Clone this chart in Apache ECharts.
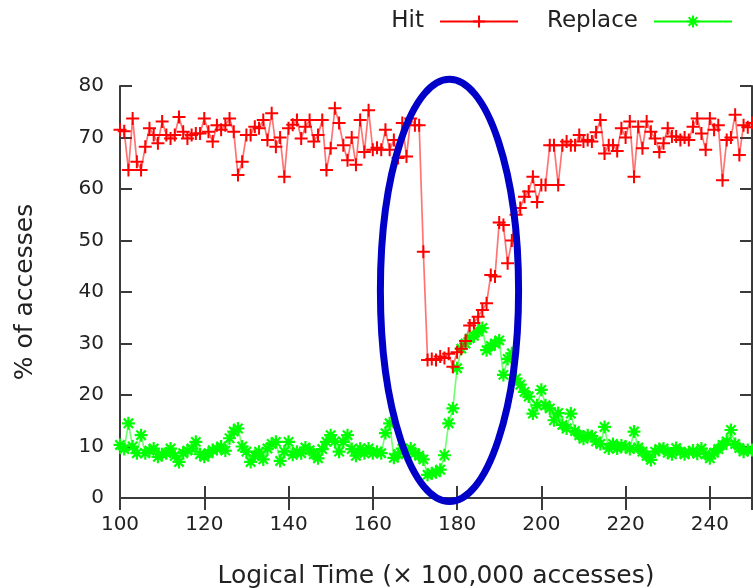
<!DOCTYPE html>
<html>
<head>
<meta charset="utf-8">
<script src="https://cdn.jsdelivr.net/npm/echarts@6/dist/echarts.min.js"></script>
<style>
html,body{margin:0;padding:0;background:#fff;}
#chart{width:753px;height:588px;}
</style>
</head>
<body>
<div id="chart"></div>
<script>
const xValues = [100,101,102,103,104,105,106,107,108,109,110,111,112,113,114,115,116,117,118,119,
120,121,122,123,124,125,126,127,128,129,130,131,132,133,134,135,136,137,138,139,
140,141,142,143,144,145,146,147,148,149,150,151,152,153,154,155,156,157,158,159,
160,161,162,163,164,165,166,167,168,169,170,171,172,173,174,175,176,177,178,179,
180,181,182,183,184,185,186,187,188,189,190,191,192,193,194,195,196,197,198,199,
200,201,202,203,204,205,206,207,208,209,210,211,212,213,214,215,216,217,218,219,
220,221,222,223,224,225,226,227,228,229,230,231,232,233,234,235,236,237,238,239,
240,241,242,243,244,245,246,247,248,249,250];

const hitValues = [71.5,71.2,63.7,73.7,65.3,63.7,68.2,71.8,70.5,68.9,73.1,70.5,69.8,70.5,74.0,71.1,69.8,70.5,70.8,70.8,
73.7,71.1,69.2,72.4,71.5,72.4,73.7,71.1,62.7,65.3,70.5,70.5,72.1,71.8,73.4,69.5,74.7,68.2,70.0,62.4,
71.8,72.5,73.4,69.8,72.1,73.4,69.2,70.5,73.4,63.7,67.9,75.7,72.8,68.5,65.6,70.0,64.7,73.4,67.2,75.3,
67.6,68.0,67.6,71.5,67.6,69.5,66.0,72.8,66.3,73.7,72.4,72.4,47.8,26.8,27.0,26.8,27.5,27.2,28.0,25.5,
28.3,29.0,30.5,33.5,34.0,35.2,36.5,37.8,43.3,43.0,53.5,53.0,45.6,50.0,55.0,56.3,58.5,59.5,62.4,57.5,
60.8,60.8,68.5,68.5,60.8,68.5,69.2,68.5,68.5,70.5,69.2,69.5,69.2,71.0,73.4,66.9,68.5,68.5,67.4,71.8,
70.0,73.1,62.4,72.1,67.9,73.1,71.1,69.8,67.2,68.9,71.8,70.2,70.2,69.5,70.0,69.5,72.1,73.7,70.8,67.6,
73.7,71.5,72.4,61.7,69.5,70.0,74.4,66.6,72.4,72.0,72.8];

const replaceValues = [10.3,9.5,14.5,10.0,8.7,12.2,8.7,9.2,9.6,8.0,8.5,8.7,9.6,8.2,7.0,8.7,9.2,9.6,10.9,8.5,
8.0,8.7,9.3,9.5,10.0,9.2,11.6,12.9,13.5,10.0,9.0,7.0,8.2,9.0,7.5,9.6,10.5,10.9,7.2,9.0,
10.9,8.4,9.0,8.7,9.8,9.3,8.5,7.7,9.5,10.9,12.2,11.0,9.0,10.9,12.2,9.5,8.2,9.6,8.7,9.6,
8.7,9.0,8.7,12.6,14.5,7.8,8.5,9.6,8.7,9.6,8.7,8.2,7.5,4.5,4.8,5.0,5.5,8.3,14.5,17.4,
25.2,29.0,30.0,31.0,31.5,32.3,33.0,28.7,29.5,30.0,30.6,23.9,27.0,28.1,23.2,22.0,20.6,19.7,16.4,18.0,
21.0,18.0,17.4,15.1,16.5,14.2,13.5,16.4,13.0,12.2,11.5,12.2,12.0,11.0,10.5,13.8,9.6,10.5,9.6,10.2,
10.0,9.5,12.9,9.8,9.0,8.2,7.4,9.0,9.5,9.6,8.8,8.5,9.7,9.0,8.5,8.9,9.2,8.6,9.6,8.5,
7.7,8.8,9.5,10.3,11.0,13.2,10.5,9.7,9.0,9.3,9.3];

const yTicks = [0,10,20,30,40,50,60,70,80];
const xTicks = [100,120,140,160,180,200,220,240];
// annotation ellipse in data units: centre x, centre y, radius x, radius y
const ellipseSpec = [178.2, 40.3, 16.4, 41.0];

const seriesNames = ['Hit', 'Replace'];

function zip(xs, ys){ return xs.map((x,i)=>[x, ys[i]]); }

const FONT = 'DejaVu Sans';
const axisColor = '#3a3a3a';
const PLUS = 'path://M0,-1L0,1M-1,0L1,0';
const STAR = 'path://M0,-1L0,1M-1,0L1,0M-0.72,-0.72L0.72,0.72M-0.72,0.72L0.72,-0.72';

const chart = echarts.init(document.getElementById('chart'), null, {renderer:'canvas'});
const baseAxisLine = {show:true, lineStyle:{color:axisColor, width:2}};
const tickStyle = {show:true, inside:true, length:12, lineStyle:{color:axisColor, width:2}};

chart.setOption({
  animation:false,
  backgroundColor:'#fff',
  grid:{left:120, top:86, width:632, height:412, containLabel:false, outerBoundsMode:'none'},
  legend:{
    data:seriesNames,
    right:15, top:5,
    align:'right',
    itemWidth:78, itemHeight:15, itemGap:28,
    lineStyle:{opacity:1, width:2},
    textStyle:{fontFamily:FONT, fontSize:23, color:'#222', padding:[0,11,0,0]}
  },
  xAxis:[{
    type:'value', min:100, max:250, interval:20,
    position:'bottom',
    name:'Logical Time (× 100,000 accesses)',
    nameLocation:'middle', nameGap:66,
    nameTextStyle:{fontFamily:FONT, fontSize:25, color:'#222'},
    axisLine:baseAxisLine, axisTick:tickStyle,
    axisLabel:{fontFamily:FONT, fontSize:20, color:'#222', margin:17, customValues:xTicks},
    splitLine:{show:false}
  },{
    type:'value', min:100, max:250, interval:20, position:'top',
    axisLine:baseAxisLine, axisTick:tickStyle, axisLabel:{show:false}, splitLine:{show:false}
  }],
  yAxis:[{
    type:'value', min:0, max:80, interval:10,
    position:'left',
    name:'% of accesses',
    nameLocation:'middle', nameGap:82, nameRotate:90,
    nameTextStyle:{fontFamily:FONT, fontSize:25, color:'#222'},
    axisLine:baseAxisLine, axisTick:tickStyle,
    axisLabel:{fontFamily:FONT, fontSize:20, color:'#222', margin:16, customValues:yTicks},
    splitLine:{show:false}
  },{
    type:'value', min:0, max:80, interval:10, position:'right',
    axisLine:baseAxisLine, axisTick:tickStyle, axisLabel:{show:false}, splitLine:{show:false}
  }],
  series:[{
    name:'Hit', type:'line', xAxisIndex:0, yAxisIndex:0,
    data:zip(xValues, hitValues),
    symbol:PLUS, symbolSize:13, showAllSymbol:true,
    lineStyle:{color:'#ff0000', width:1.7, opacity:0.55},
    itemStyle:{color:'rgba(255,0,0,0)', borderColor:'#ff0000', borderWidth:2},
    color:'#ff0000',
    emphasis:{disabled:true}, z:3
  },{
    name:'Replace', type:'line', xAxisIndex:0, yAxisIndex:0,
    data:zip(xValues, replaceValues),
    symbol:STAR, symbolSize:13, showAllSymbol:true,
    lineStyle:{color:'#00ff00', width:1.7, opacity:0.55},
    itemStyle:{color:'rgba(0,255,0,0)', borderColor:'#00ff00', borderWidth:2.2},
    color:'#00ff00',
    emphasis:{disabled:true}, z:2
  },{
    name:'annotation', type:'custom', xAxisIndex:0, yAxisIndex:0,
    clip:false, z:10, silent:true,
    data:[ellipseSpec],
    renderItem:function(params, api){
      const c = api.coord([api.value(0), api.value(1)]);
      const s = api.size([api.value(2), api.value(3)]);
      const rx = s[0], ry = s[1];
      const cx = c[0], cy = c[1];
      const d = 'M ' + (cx-rx) + ' ' + cy + ' A ' + rx + ' ' + ry + ' 0 1 0 ' + (cx+rx) + ' ' + cy +
                ' A ' + rx + ' ' + ry + ' 0 1 0 ' + (cx-rx) + ' ' + cy + ' Z';
      return {type:'path', shape:{pathData:d}, style:{fill:'none', stroke:'#0000c8', lineWidth:7}};
    }
  }]
});
</script>
</body>
</html>
